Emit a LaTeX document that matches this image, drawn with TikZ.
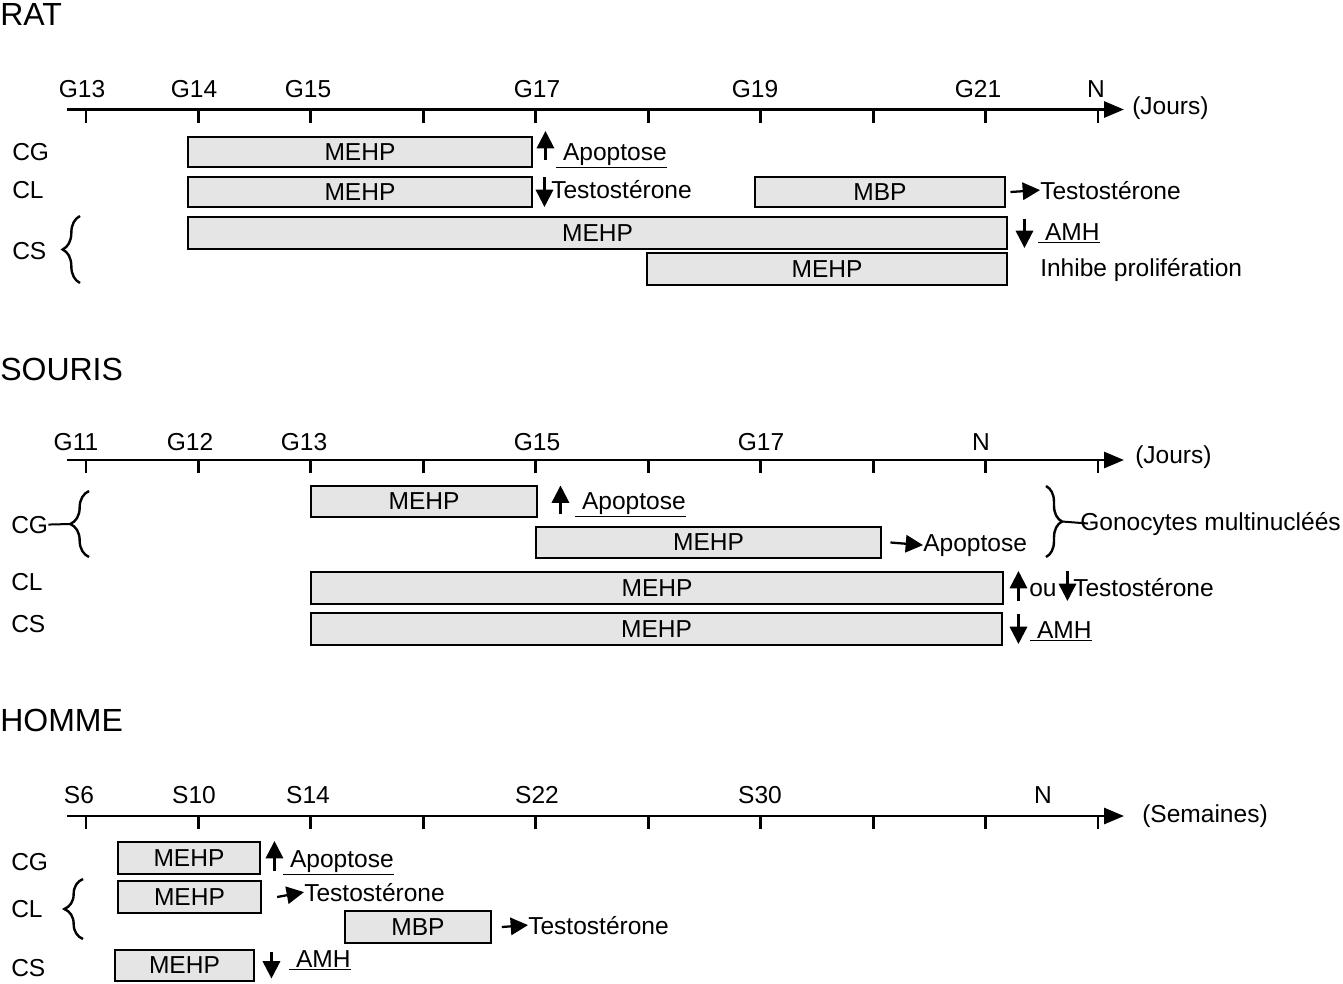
\documentclass[tikz,border=0pt]{standalone}
\usepackage{fontspec}
\setmainfont{Liberation Sans}
\usetikzlibrary{arrows.meta,fit,decorations.pathreplacing}

\begin{document}
\begin{tikzpicture}[x=0.75pt, y=-0.75pt,
	every node/.style={inner sep=0pt, font=\fontsize{18.4}{21}\selectfont},
	titre/.style={anchor=base west, font=\fontsize{24}{27}\selectfont},
	txt/.style={anchor=base west},
	jour/.style={anchor=base},
	boite/.style={draw, line width=2.2pt, fill=black!10, label=center:#1},
	axe/.style={line width=2.2pt, -{Triangle[length=15pt,width=12pt]}},
	grad/.style={line width=2.2pt},
	fleche/.style={line width=1.7pt, -{Triangle[length=13pt,width=13pt]}},
	accol/.style={line width=1.8pt, decorate, decoration={brace, amplitude=#1}}]
	\useasboundingbox (0,0) rectangle (1343,983);

	% RAT
	\node[titre] (rat) at (0,25) {RAT};
	\coordinate (rA) at (67,109.5);
	\coordinate (rB) at (1124,109.5);
	\draw[axe] (rA) -- (rB);
	\foreach \i in {0,...,9}
		\draw[grad] ({86+112.44*\i},109.5) -- ++(0,13);
	\node[jour] (rG13) at (82,97) {G13};
	\node[jour] (rG14) at (194,97) {G14};
	\node[jour] (rG15) at (308,97) {G15};
	\node[jour] (rG17) at (537,97) {G17};
	\node[jour] (rG19) at (755,97) {G19};
	\node[jour] (rG21) at (978,97) {G21};
	\node[jour] (rN) at (1096,97) {N};
	\node[txt] (rjours) at (1132,114) {(Jours)};

	\node[txt] (rCG) at (12,160) {CG};
	\node[txt] (rCL) at (12,198) {CL};
	\node[txt] (rCS) at (12,259) {CS};
	\draw[accol=13pt] (80,283) -- (80,216);

	\node[boite=MEHP, fit={(188,137) (532,167)}] (rcg) {};
	\node[boite=MEHP, fit={(188,177) (532,207)}] (rcl) {};
	\node[boite=MBP, fit={(755,177) (1005,207)}] (rclb) {};
	\node[boite=MEHP, fit={(188,217) (1007,249)}] (rcs) {};
	\node[boite=MEHP, fit={(647,253) (1007,285)}] (rcsb) {};

	\draw[fleche] ([shift={(12,8)}]rcg.east) -- ++(0,-29);
	\node[txt] (rapo) at (556,160) {\underline{\ Apoptose}};
	\draw[fleche] ([shift={(11,-15)}]rcl.east) -- ++(0,30);
	\node[txt] (rtesto) at (551,198) {Testostérone};
	\node[txt] (rtestob) at (1040,199) {Testostérone};
	\draw[fleche] ([xshift=3pt]rclb.east) -- (rtestob.west);
	\draw[fleche] ([shift={(16,-14)}]rcs.east) -- ++(0,29);
	\node[txt] (ramh) at (1038,240) {\underline{\ AMH}};
	\node[txt] (rinhib) at (1040,276) {Inhibe prolifération};

	% SOURIS
	\node[titre] (souris) at (0,380) {SOURIS};
	\coordinate (sA) at (67,460);
	\coordinate (sB) at (1124,460);
	\draw[axe] (sA) -- (sB);
	\foreach \i in {0,...,9}
		\draw[grad] ({86+112.44*\i},460) -- ++(0,13);
	\node[jour] (sG11) at (76,450) {G11};
	\node[jour] (sG12) at (190,450) {G12};
	\node[jour] (sG13) at (304,450) {G13};
	\node[jour] (sG15) at (537,450) {G15};
	\node[jour] (sG17) at (761,450) {G17};
	\node[jour] (sN) at (981,450) {N};
	\node[txt] (sjours) at (1135,463) {(Jours)};

	\node[txt] (sCG) at (11,533) {CG};
	\node[txt] (sCL) at (11,590) {CL};
	\node[txt] (sCS) at (11,632) {CS};
	\draw[accol=14pt] (89,557) -- (89,491);
	\coordinate (sctip) at (70,524);
	\draw[line width=1.5pt] (sCG.east) -- (sctip);

	\node[boite=MEHP, fit={(311,486) (537,517)}] (scg) {};
	\node[boite=MEHP, fit={(536,527) (881,558)}] (scgb) {};
	\node[boite=MEHP, fit={(311,572) (1003,604)}] (scl) {};
	\node[boite=MEHP, fit={(311,613) (1002,645)}] (scs) {};

	\draw[fleche] ([shift={(22,12)}]scg.east) -- ++(0,-28);
	\node[txt] (sapo) at (575,509) {\underline{\ Apoptose}};
	\node[txt] (sapob) at (923,551) {Apoptose};
	\draw[fleche] ([xshift=6pt]scgb.east) -- (sapob.west);
	\draw[accol=12pt] (1046,486) -- (1046,557);
	\coordinate (sgtip) at (1062,521.5);
	\node[txt] (sgono) at (1080,530) {Gonocytes multinucléés};
	\draw[line width=1.5pt] (sgtip) -- ([xshift=6pt]sgono.west);
	\draw[fleche] ([shift={(14,13)}]scl.east) -- ++(0,-30);
	\node[txt] (sou) at (1029,596) {ou};
	\draw[fleche] ([shift={(63,-17)}]scl.east) -- ++(0,30);
	\node[txt] (stesto) at (1073,596) {Testostérone};
	\draw[fleche] ([shift={(15,-15)}]scs.east) -- ++(0,30);
	\node[txt] (samh) at (1030,638) {\underline{\ AMH}};

	% HOMME
	\node[titre] (homme) at (0,731) {HOMME};
	\coordinate (hA) at (67,816);
	\coordinate (hB) at (1124,816);
	\draw[axe] (hA) -- (hB);
	\foreach \i in {0,...,9}
		\draw[grad] ({86+112.44*\i},816) -- ++(0,13);
	\node[jour] (hS6) at (79,803) {S6};
	\node[jour] (hS10) at (194,803) {S10};
	\node[jour] (hS14) at (308,803) {S14};
	\node[jour] (hS22) at (537,803) {S22};
	\node[jour] (hS30) at (760,803) {S30};
	\node[jour] (hN) at (1043,803) {N};
	\node[txt] (hsem) at (1142,822) {(Semaines)};

	\node[txt] (hCG) at (11,870) {CG};
	\node[txt] (hCL) at (11,917) {CL};
	\node[txt] (hCS) at (11,976) {CS};
	\draw[accol=14pt] (83,939) -- (83,879);

	\node[boite=MEHP, fit={(118,842) (260,874)}] (hcg) {};
	\node[boite=MEHP, fit={(118,881) (261,913)}] (hcl) {};
	\node[boite=MBP, fit={(345,911) (491,943)}] (hclb) {};
	\node[boite=MEHP, fit={(115,950) (254,981)}] (hcs) {};

	\draw[fleche] ([shift={(13,13)}]hcg.east) -- ++(0,-30);
	\node[txt] (hapo) at (283,867) {\underline{\ Apoptose}};
	\node[txt] (htesto) at (304,901) {Testostérone};
	\draw[fleche] ([xshift=11pt]hcl.east) -- (htesto.west);
	\node[txt] (htestob) at (528,934) {Testostérone};
	\draw[fleche] ([xshift=7pt]hclb.east) -- (htestob.west);
	\draw[fleche] ([shift={(16,-14)}]hcs.east) -- ++(0,27);
	\node[txt] (hamh) at (289,967) {\underline{\ AMH}};
\end{tikzpicture}
\end{document}
